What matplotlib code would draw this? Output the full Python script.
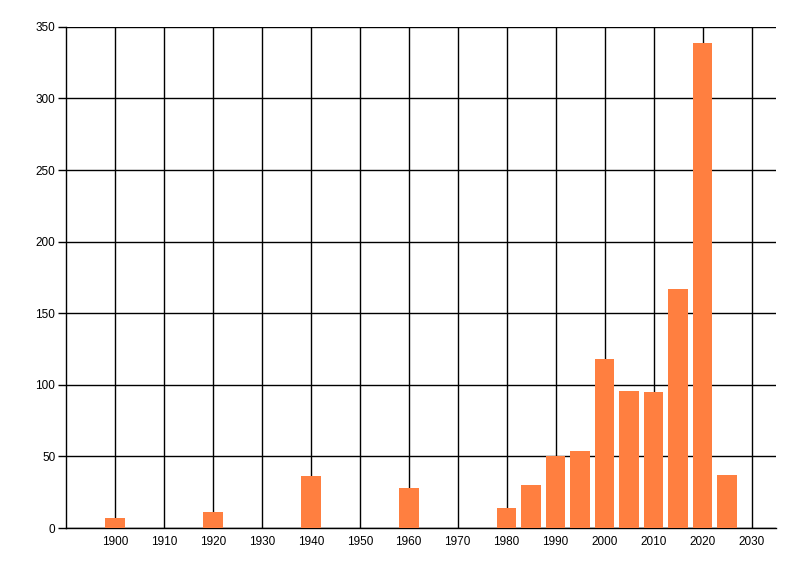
import matplotlib
matplotlib.use("Agg")
from matplotlib import pyplot as plt

# years and counts
years = [1900, 1920, 1940, 1960, 1980, 1985, 1990, 1995, 2000, 2005, 2010, 2015, 2020, 2025]
counts = [7, 11, 36, 28, 14, 30, 50, 54, 118, 96, 95, 167, 339, 37]
x_ticks = list(range(1900, 2031, 10))
y_ticks = list(range(0, 351, 50))

plt.rcParams['font.family'] = ['Liberation Sans', 'DejaVu Sans']

fig = plt.figure(figsize=(8, 5.76), dpi=100)
ax = fig.add_axes([0.083, 0.0833, 0.887, 0.87])

ax.bar(years, counts, width=4, color='#ff7f40', zorder=3)

ax.set_xlim(1890.1, 2035)
ax.set_ylim(0, 350)
ax.set_xticks(x_ticks)
ax.set_yticks(y_ticks)
ax.grid(True, color='black', linewidth=1)
ax.set_axisbelow(True)

for s in ['top', 'right']:
    ax.spines[s].set_visible(False)
ax.spines['left'].set_linewidth(1)
ax.spines['bottom'].set_linewidth(1)

ax.tick_params(axis='y', length=6, width=1, labelsize=8.5, pad=2)
ax.tick_params(axis='x', length=0, labelsize=8.5, pad=6)

fig.savefig("out.png", dpi=100)
